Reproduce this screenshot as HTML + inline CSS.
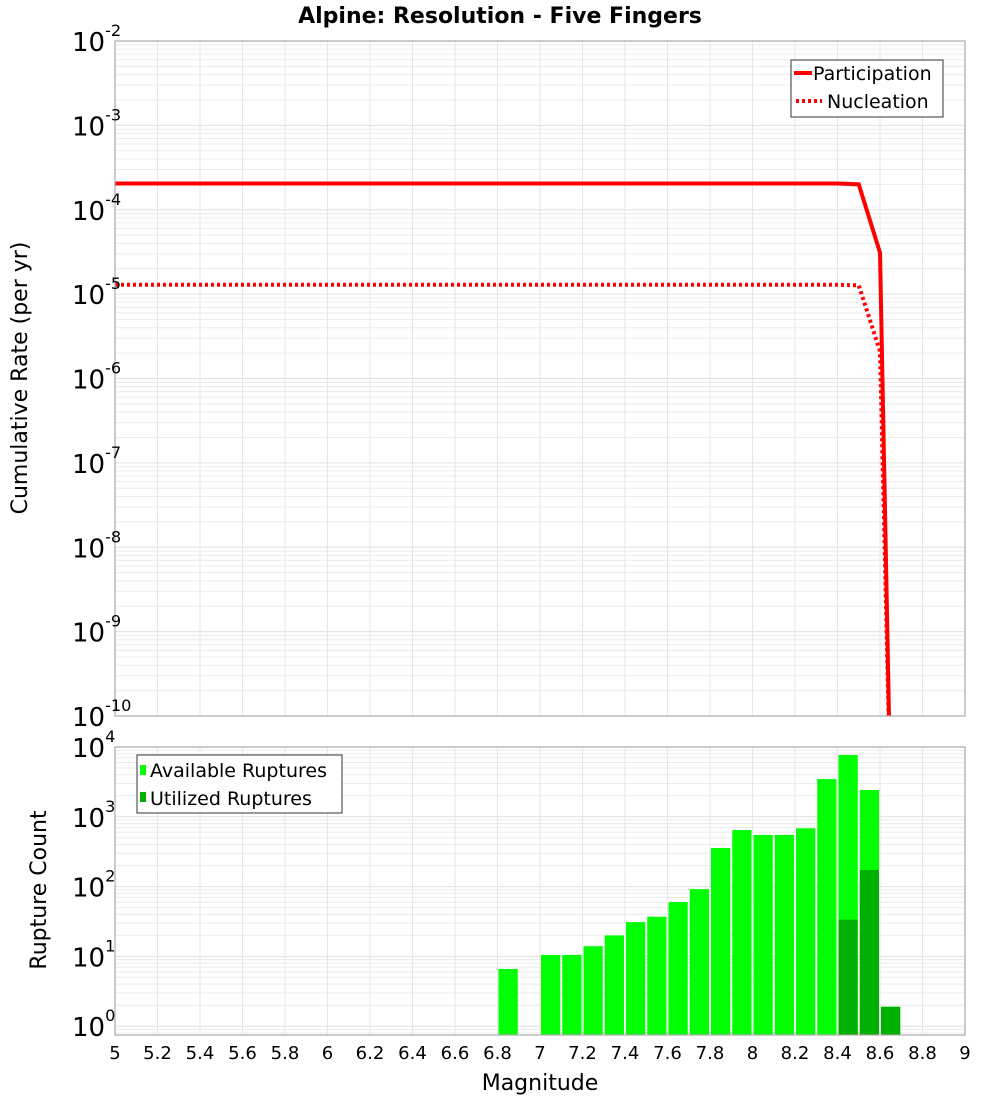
<!DOCTYPE html>
<html><head><meta charset="utf-8"><style>
body{margin:0;background:#fff}
svg{display:block;font-family:"DejaVu Sans","Liberation Sans",sans-serif}
</style></head><body>
<svg id="c" width="1000" height="1100" xmlns="http://www.w3.org/2000/svg">
<text x="500" y="23" text-anchor="middle" font-size="22" font-weight="bold">Alpine: Resolution - Five Fingers</text>
<text transform="translate(27,378) rotate(-90)" text-anchor="middle" font-size="22">Cumulative Rate (per yr)</text>
<text transform="translate(46,890) rotate(-90)" text-anchor="middle" font-size="22">Rupture Count</text>
<text x="540" y="1090" text-anchor="middle" font-size="22">Magnitude</text>
</svg>
<script>
const mags = [5.0, 8.4, 8.5, 8.6, 8.65];
const participation = [2.05e-4, 2.05e-4, 2.0e-4, 3.1e-5, 1e-11];
const nucleation = [1.29e-5, 1.29e-5, 1.27e-5, 2.1e-6, 1e-11];
const binCenters = [6.85,7.05,7.15,7.25,7.35,7.45,7.55,7.65,7.75,7.85,7.95,8.05,8.15,8.25,8.35,8.45,8.55,8.65];
const available = [6.6,10.5,10.5,14,20,31,37,60,92,357,646,550,550,684,3470,7690,2420,1.9];
const utilized = [0,0,0,0,0,0,0,0,0,0,0,0,0,0,0,33.6,173,1.9];
const xTicks = [5,5.2,5.4,5.6,5.8,6,6.2,6.4,6.6,6.8,7,7.2,7.4,7.6,7.8,8,8.2,8.4,8.6,8.8,9];
const xTickLabels = ["5","5.2","5.4","5.6","5.8","6","6.2","6.4","6.6","6.8","7","7.2","7.4","7.6","7.8","8","8.2","8.4","8.6","8.8","9"];
const topDecades = [-2,-3,-4,-5,-6,-7,-8,-9,-10];
const botDecades = [4,3,2,1,0];

const svg = document.getElementById('c');
const NS = 'http://www.w3.org/2000/svg';
function mk(tag, attrs, parent){const e=document.createElementNS(NS,tag);for(const k in attrs)e.setAttribute(k,attrs[k]);(parent||svg).appendChild(e);return e;}
const L=115,R=965;
const x=v=>L+(v-5)/4*(R-L);
const T1=41,B1=716; const yTop=v=>T1+(-2-Math.log10(v))/8*(B1-T1);
const T2=747,B2=1035; const lmin=-0.126; const yBot=v=>B2-(Math.log10(v)-lmin)/(4-lmin)*(B2-T2);

function grid(top,bot,lo,hi,yf,name){
  const g=mk('g',{});
  
  
  for(let d=Math.floor(lo);d<hi;d++){for(let m=1;m<10;m++){const v=m*Math.pow(10,d);const yy=yf(v);if(yy<top-0.5||yy>bot+0.5)continue;
    mk('line',{x1:L,x2:R,y1:yy,y2:yy,stroke:m==1?'#e0e0e0':'#ececec','stroke-width':1},g);}}
  xTicks.forEach(t=>{mk('line',{x1:x(t),x2:x(t),y1:top,y2:bot,stroke:'#e6e6e6','stroke-width':1},g);});
}
grid(T1,B1,-10,-2,yTop,'top-grid');
grid(T2,B2,-1,4,yBot,'bottom-grid');

// bars
const bw=(R-L)/40;
binCenters.forEach((c,i)=>{
  const x0=x(c)-bw/2+1;
  if(available[i]>0){const r=mk('rect',{x:x0,y:yBot(available[i]),width:bw-2,height:B2-yBot(available[i]),fill:'#00ff00'});
    
    }
  if(utilized[i]>0){const r=mk('rect',{x:x0,y:yBot(utilized[i]),width:bw-2,height:B2-yBot(utilized[i]),fill:'#00b000'});
    
    }
});

// lines
mk('clipPath',{id:'cp'}).appendChild(Object.assign(document.createElementNS(NS,'rect'),{}));
const cp=svg.querySelector('#cp rect');cp.setAttribute('x',L);cp.setAttribute('y',T1);cp.setAttribute('width',R-L);cp.setAttribute('height',B1-T1);
function pts(arr){return mags.map((m,i)=>x(m)+','+yTop(arr[i])).join(' ');}
const p1=mk('polyline',{points:pts(participation),fill:'none',stroke:'#ff0000','stroke-width':4,'clip-path':'url(#cp)'});


const p2=mk('polyline',{points:pts(nucleation),fill:'none',stroke:'#ff0000','stroke-width':4,'stroke-dasharray':'3,3','clip-path':'url(#cp)'});



// frames
mk('rect',{x:L,y:T1,width:R-L,height:B1-T1,fill:'none',stroke:'#aaa','stroke-width':1.2});
mk('rect',{x:L,y:T2,width:R-L,height:B2-T2,fill:'none',stroke:'#aaa','stroke-width':1.2});

// y labels
function ylab(d,yy,name,size){const t=mk('text',{x:72,y:yy+10,'font-size':size});
  
  
  t.textContent='10';const s=mk('tspan',{dy:-15,'font-size':size*0.62},t);s.textContent=String(d);}
topDecades.forEach(d=>ylab(d,yTop(Math.pow(10,d)),'top-y-tick-label',26));
botDecades.forEach(d=>ylab(d,yBot(Math.pow(10,d)),'bottom-y-tick-label',26));
xTicks.forEach((t,i)=>{const e=mk('text',{x:x(t),y:1059,'text-anchor':'middle','font-size':18});
  
  
  e.textContent=xTickLabels[i];});

// legends
const lg1=mk('g',{});


mk('rect',{x:791,y:60,width:152,height:57,fill:'#fff',stroke:'#333','stroke-width':1},lg1);
mk('line',{x1:794,x2:812,y1:73,y2:73,stroke:'#f00','stroke-width':4},lg1);
mk('line',{x1:796,x2:822,y1:101,y2:101,stroke:'#f00','stroke-width':4,'stroke-dasharray':'3,3'},lg1);
let t=mk('text',{x:813,y:80,'font-size':19},lg1);t.textContent='Participation';
t=mk('text',{x:827,y:108,'font-size':19},lg1);t.textContent='Nucleation';
const lg2=mk('g',{});


mk('rect',{x:137,y:755,width:205,height:58,fill:'#fff',stroke:'#333','stroke-width':1},lg2);
mk('rect',{x:140,y:765,width:6,height:10,fill:'#00ff00'},lg2);
mk('rect',{x:140,y:792,width:6,height:10,fill:'#00b000'},lg2);
t=mk('text',{x:150,y:777,'font-size':19},lg2);t.textContent='Available Ruptures';
t=mk('text',{x:150,y:805,'font-size':19},lg2);t.textContent='Utilized Ruptures';
</script>
</body></html>
